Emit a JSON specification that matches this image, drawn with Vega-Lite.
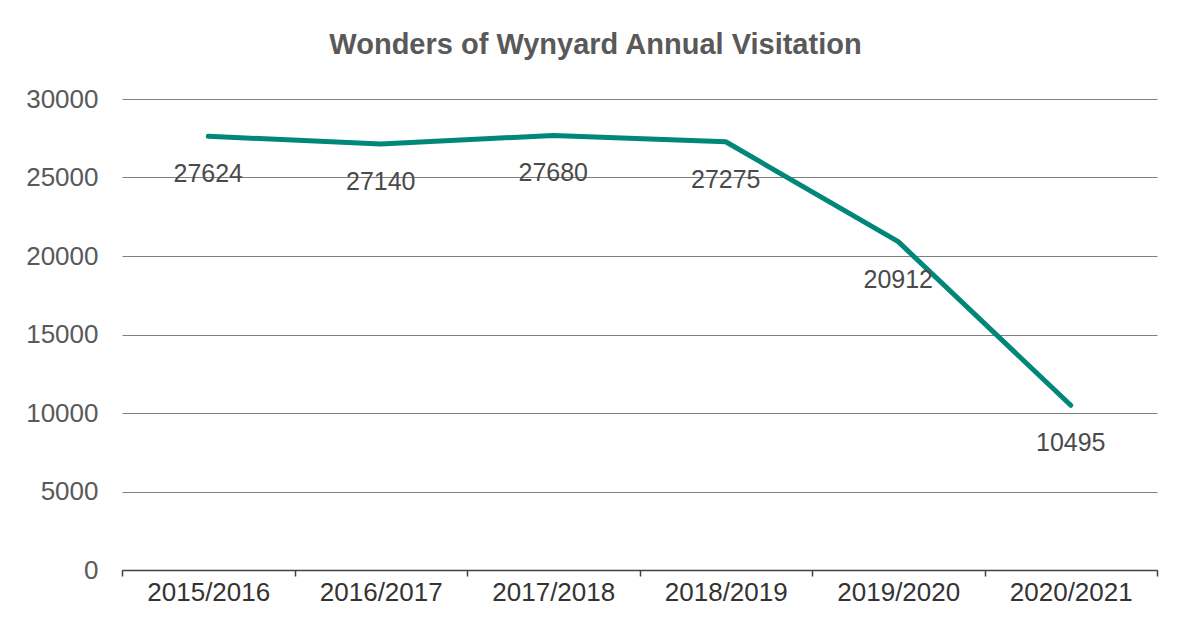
{
  "$schema": "https://vega.github.io/schema/vega-lite/v6.json",
  "width": 1035,
  "height": 471,
  "autosize": "none",
  "padding": {"left": 122, "top": 99, "right": 40, "bottom": 62},
  "background": "white",
  "title": {
    "text": "Wonders of Wynyard Annual Visitation",
    "font": "Liberation Sans",
    "fontSize": 29,
    "fontWeight": "bold",
    "color": "#595959",
    "anchor": "middle",
    "dx": -44,
    "offset": 26
  },
  "data": {
    "values": [
      {"year": "2015/2016", "visits": 27624},
      {"year": "2016/2017", "visits": 27140},
      {"year": "2017/2018", "visits": 27680},
      {"year": "2018/2019", "visits": 27275},
      {"year": "2019/2020", "visits": 20912},
      {"year": "2020/2021", "visits": 10495}
    ]
  },
  "encoding": {
    "x": {
      "field": "year",
      "type": "nominal",
      "sort": null,
      "scale": {"type": "band", "paddingInner": 0, "paddingOuter": 0},
      "axis": {
        "title": null,
        "labelAngle": 0,
        "labelFont": "Liberation Sans",
        "labelFontSize": 26,
        "labelColor": "#333333",
        "labelPadding": 3,
        "domainColor": "#404040",
        "domainWidth": 1.5,
        "tickColor": "#404040",
        "tickWidth": 1.5,
        "tickSize": 6,
        "tickBand": "extent",
        "grid": false
      }
    },
    "y": {
      "field": "visits",
      "type": "quantitative",
      "scale": {"domain": [0, 30000], "nice": false},
      "axis": {
        "title": null,
        "values": [0, 5000, 10000, 15000, 20000, 25000, 30000],
        "labelFont": "Liberation Sans",
        "labelFontSize": 26,
        "labelColor": "#595959",
        "labelPadding": 24,
        "ticks": false,
        "domain": false,
        "grid": true,
        "gridColor": "#7f7f7f",
        "gridWidth": 1.2,
        "format": "d"
      }
    }
  },
  "layer": [
    {
      "mark": {"type": "line", "color": "#00877A", "strokeWidth": 5, "strokeCap": "round", "strokeJoin": "round"}
    },
    {
      "mark": {"type": "text", "font": "Liberation Sans", "fontSize": 25, "color": "#4a4a4a", "baseline": "middle", "dy": 38},
      "encoding": {"text": {"field": "visits", "type": "quantitative", "format": "d"}}
    }
  ],
  "config": {"view": {"stroke": null}}
}
